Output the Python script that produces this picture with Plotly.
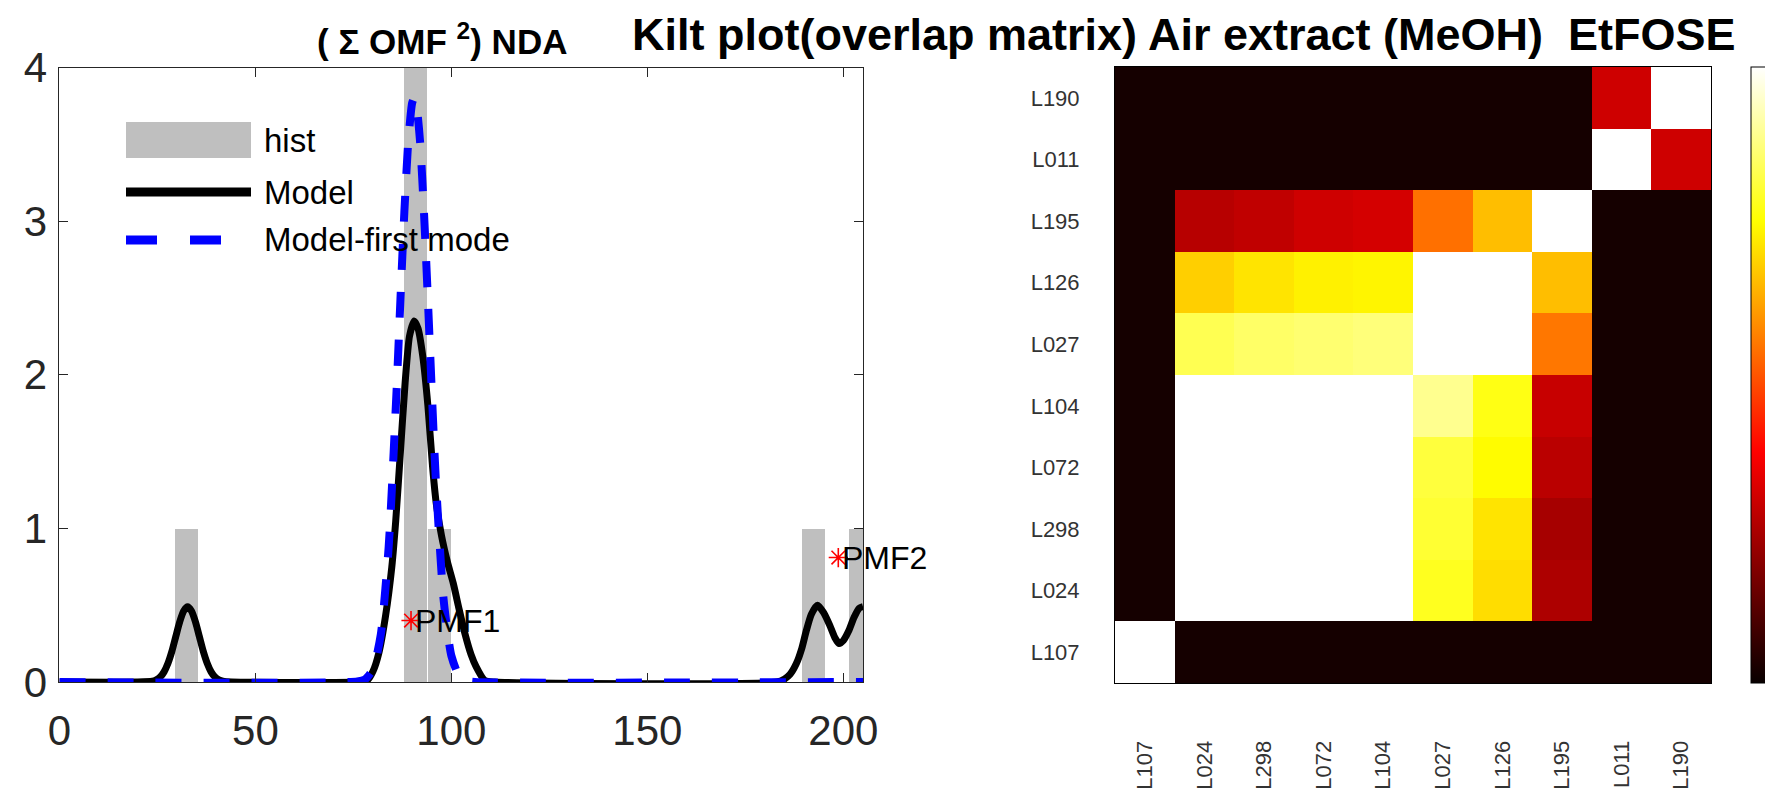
import plotly.graph_objects as go

W, H = 1765, 796

# ---------------- data: left panel ----------------
hist_x = [32.5, 90.9, 97.1, 192.5, 204.4]
hist_y = [1, 4, 1, 1, 1]

model_x = [0, 20, 23.7, 24.7, 25.7, 26.7, 27.7, 28.7, 29.7, 30.7, 31.7, 32.7, 33.7, 34.7, 35.7,
           36.7, 37.7, 38.7, 39.7, 40.7, 41.7, 44, 76, 78.5, 80, 81.5, 83.2, 84.8, 85.8, 87,
           88.2, 89.3, 90.5, 91.5, 92.7, 94, 95.2, 96.2, 97.5, 99, 100.5, 102, 103.4, 105,
           106.3, 108.5, 111, 183, 185, 186.4, 188, 189.4, 190.5, 191.8, 193.4, 195, 196.5,
           197.8, 198.9, 200, 201.3, 202.7, 204, 205]
model_y = [0, 0, 0.005, 0.014, 0.032, 0.066, 0.122, 0.2, 0.297, 0.392, 0.462, 0.49, 0.462, 0.392, 0.297,
           0.2, 0.122, 0.066, 0.032, 0.014, 0.005, 0, 0, 0.01, 0.07, 0.19, 0.43, 0.75, 1.05, 1.5,
           1.95, 2.25, 2.35, 2.3, 2.12, 1.8, 1.4, 1.15, 0.95, 0.78, 0.64, 0.47, 0.32, 0.18,
           0.1, 0.01, 0, 0, 0.02, 0.05, 0.12, 0.22, 0.33, 0.44, 0.5, 0.45, 0.37,
           0.29, 0.25, 0.27, 0.33, 0.42, 0.48, 0.49]

first_x = [0, 76, 78, 80, 82, 84, 86, 87, 88, 89, 90, 90.5, 91, 92, 93, 94, 95, 96, 98, 100,
           102, 104, 106, 205]
first_y = [0, 0.003, 0.017, 0.083, 0.31, 0.88, 1.89, 2.49, 3.06, 3.52, 3.77, 3.8, 3.77, 3.52,
           3.06, 2.49, 1.89, 1.33, 0.54, 0.17, 0.039, 0.007, 0, 0]

pmf_x = [89.7, 198.7]
pmf_y = [0.40, 0.81]
pmf_labels = ["PMF1", "PMF2"]

x_ticks = [0, 50, 100, 150, 200]
y_ticks = [0, 1, 2, 3, 4]

series_names = ["hist", "Model", "Model-first mode"]

# ---------------- data: right panel (kilt plot) ----------------
kilt_labels = ["L107", "L024", "L298", "L072", "L104", "L027", "L126", "L195", "L011", "L190"]
kilt_z = [
    [1.00, 0.02, 0.02, 0.02, 0.02, 0.02, 0.02, 0.02, 0.02, 0.02],   # L107
    [0.02, 1.00, 1.00, 1.00, 1.00, 0.78, 0.70, 0.25, 0.02, 0.02],   # L024
    [0.02, 1.00, 1.00, 1.00, 1.00, 0.80, 0.71, 0.24, 0.02, 0.02],   # L298
    [0.02, 1.00, 1.00, 1.00, 1.00, 0.81, 0.745, 0.27, 0.02, 0.02],  # L072
    [0.02, 1.00, 1.00, 1.00, 1.00, 0.89, 0.77, 0.29, 0.02, 0.02],   # L104
    [0.02, 0.83, 0.85, 0.86, 0.87, 1.00, 1.00, 0.55, 0.02, 0.02],   # L027
    [0.02, 0.68, 0.71, 0.73, 0.735, 1.00, 1.00, 0.655, 0.02, 0.02], # L126
    [0.02, 0.265, 0.28, 0.30, 0.31, 0.54, 0.655, 1.00, 0.02, 0.02], # L195
    [0.02, 0.02, 0.02, 0.02, 0.02, 0.02, 0.02, 0.02, 1.00, 0.30],   # L011
    [0.02, 0.02, 0.02, 0.02, 0.02, 0.02, 0.02, 0.02, 0.30, 1.00],   # L190
]

main_title = "Kilt plot(overlap matrix) Air extract (MeOH)\u00a0\u00a0EtFOSE"
left_title = "( \u03a3 OMF <sup>2</sup>) NDA"

# ---------------- layout helpers ----------------
def px_x(p):
    return p / W

def px_y(p):
    return (H - p) / H

FONT = "Liberation Sans, Arial, Helvetica, sans-serif"
AXC = "#262626"
GRAY = "#bfbfbf"

hot = [[0.0, "rgb(8,0,0)"], [0.375, "rgb(255,0,0)"], [0.75, "rgb(255,255,0)"], [1.0, "rgb(255,255,255)"]]

fig = go.Figure()

fig.add_trace(go.Bar(x=hist_x, y=hist_y, width=5.9, marker=dict(color=GRAY, line=dict(width=0)),
                     name=series_names[0], xaxis="x", yaxis="y", showlegend=False))
fig.add_trace(go.Scatter(x=model_x, y=model_y, mode="lines", line=dict(color="black", width=7, shape="spline", smoothing=0.6),
                         name=series_names[1], xaxis="x", yaxis="y", showlegend=False))
fig.add_trace(go.Scatter(x=first_x, y=first_y, mode="lines",
                         line=dict(color="rgb(0,0,255)", width=8, dash="26px,22px", shape="spline", smoothing=0.6),
                         name=series_names[2], xaxis="x", yaxis="y", showlegend=False))
fig.add_trace(go.Scatter(x=pmf_x, y=pmf_y, mode="markers",
                         marker=dict(symbol="asterisk-open", size=16, color="red", line=dict(color="red", width=1.6)),
                         cliponaxis=False, xaxis="x", yaxis="y", showlegend=False))

fig.add_trace(go.Heatmap(x=kilt_labels, y=kilt_labels, z=kilt_z, zmin=0, zmax=1, colorscale=hot,
                         xaxis="x2", yaxis="y2", showscale=True,
                         colorbar=dict(x=1751 / W, xanchor="left", xpad=0, ypad=0,
                                       y=px_y(67), yanchor="top", len=(683 - 67) / H, lenmode="fraction",
                                       thickness=45, outlinewidth=1, outlinecolor="black",
                                       showticklabels=False, ticks="")))

annotations = []
for xv, yv, t in zip(pmf_x, pmf_y, pmf_labels):
    annotations.append(dict(x=xv, y=yv, xref="x", yref="y", text=t, showarrow=False,
                            xanchor="left", yanchor="middle", xshift=2,
                            font=dict(family=FONT, size=32, color="black")))

# manual legend (drawn like the reference: long swatches)
leg_rows = [140, 192, 240]
for name, yy in zip(series_names, leg_rows):
    annotations.append(dict(x=px_x(262), y=px_y(yy), xref="paper", yref="paper", text=name,
                            showarrow=False, xanchor="left", yanchor="middle",
                            font=dict(family=FONT, size=33, color="black")))

annotations.append(dict(x=px_x(442), y=px_y(39), xref="paper", yref="paper", text="<b>" + left_title + "</b>",
                        showarrow=False, xanchor="center", yanchor="middle",
                        font=dict(family=FONT, size=35, color="black")))
annotations.append(dict(x=px_x(630), y=px_y(34), xref="paper", yref="paper", text="<b>" + main_title + "</b>",
                        showarrow=False, xanchor="left", yanchor="middle",
                        font=dict(family=FONT, size=45, color="black")))

shapes = [
    dict(type="rect", xref="paper", yref="paper", x0=px_x(126), x1=px_x(251), y0=px_y(158), y1=px_y(122),
         fillcolor=GRAY, line=dict(width=0), layer="below"),
    dict(type="line", xref="paper", yref="paper", x0=px_x(126), x1=px_x(251), y0=px_y(192), y1=px_y(192),
         line=dict(color="black", width=9)),
    dict(type="line", xref="paper", yref="paper", x0=px_x(126), x1=px_x(251), y0=px_y(240), y1=px_y(240),
         line=dict(color="rgb(0,0,255)", width=9, dash="31px,33px")),
]

fig.update_layout(
    width=W, height=H, margin=dict(l=0, r=0, t=0, b=0, autoexpand=False),
    paper_bgcolor="white", plot_bgcolor="white",
    showlegend=False, bargap=0,
    annotations=annotations, shapes=shapes,
    xaxis=dict(domain=[px_x(59.4), px_x(863)], range=[0, 205], tickvals=x_ticks, automargin=False,
               ticks="inside", ticklen=9, tickcolor=AXC, tickwidth=1,
               showline=True, linecolor=AXC, linewidth=1, mirror="ticks",
               showgrid=False, zeroline=False, ticklabelstandoff=12,
               tickfont=dict(family=FONT, size=42, color=AXC)),
    yaxis=dict(domain=[px_y(682), px_y(67.5)], range=[0, 4], tickvals=y_ticks, automargin=False,
               ticks="inside", ticklen=9, tickcolor=AXC, tickwidth=1,
               showline=True, linecolor=AXC, linewidth=1, mirror="ticks",
               showgrid=False, zeroline=False, ticklabelstandoff=3,
               tickfont=dict(family=FONT, size=42, color=AXC)),
    xaxis2=dict(domain=[px_x(1115), px_x(1711)], anchor="y2", type="category", automargin=False,
                ticks="", tickangle=-90, showline=True, linecolor="black", linewidth=1, mirror=True,
                showgrid=False, zeroline=False, ticklabelstandoff=48,
                tickfont=dict(family=FONT, size=22, color="#333333")),
    yaxis2=dict(domain=[px_y(683), px_y(67)], anchor="x2", type="category", automargin=False,
                ticks="", showline=True, linecolor="black", linewidth=1, mirror=True,
                showgrid=False, zeroline=False, ticklabelstandoff=30,
                tickfont=dict(family=FONT, size=22, color="#333333")),
)

fig.write_html("out.html", config={"displayModeBar": False},
               post_script="document.body.style.margin='0';document.body.style.overflow='hidden';")
